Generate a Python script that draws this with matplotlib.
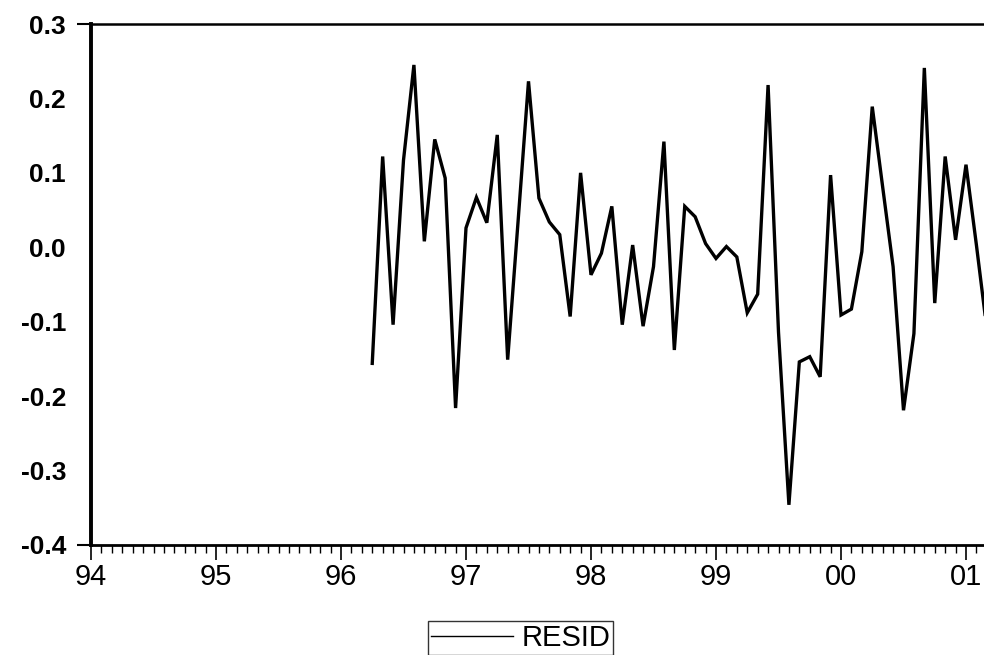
import numpy as np
import pandas as pd
import matplotlib
matplotlib.use("Agg")
import matplotlib.pyplot as plt
from matplotlib.lines import Line2D
from matplotlib.ticker import MultipleLocator

# monthly residuals, Apr 1996 - Mar 2001
months = pd.date_range("1996-04-01", "2001-03-01", freq="MS")
resid = [-0.156, 0.122, -0.104, 0.117, 0.245, 0.008, 0.145, 0.093, -0.216,
         0.026, 0.067, 0.033, 0.151, -0.151, 0.035, 0.223, 0.066, 0.034, 0.017, -0.093, 0.100,
         -0.037, -0.008, 0.055, -0.104, 0.003, -0.106, -0.026, 0.142, -0.138, 0.055, 0.041, 0.005,
         -0.015, 0.001, -0.013, -0.088, -0.063, 0.218, -0.114, -0.346, -0.154, -0.147, -0.174, 0.097,
         -0.091, -0.083, -0.006, 0.189, 0.081, -0.026, -0.219, -0.116, 0.241, -0.075, 0.122, 0.010,
         0.111, 0.003, -0.110]

year_ticks = list(range(1994, 2002))
year_labels = ["94", "95", "96", "97", "98", "99", "00", "01"]
y_ticks = [0.3, 0.2, 0.1, 0.0, -0.1, -0.2, -0.3, -0.4]

t = months.year + (months.month - 1) / 12.0

plt.rcParams['font.family'] = ['Liberation Sans', 'DejaVu Sans']

fig = plt.figure(figsize=(9.84, 6.55), dpi=100)
ax = fig.add_axes([91/984, 1 - 545/655, (984 - 91)/984, 521/655])

ax.plot(t, resid, color='black', lw=2.4, solid_joinstyle='miter')

ax.set_xlim(1994, 1994 + (984 - 91) / 125)
ax.set_ylim(-0.4, 0.3)

ax.set_xticks(year_ticks)
ax.set_xticklabels(year_labels, fontsize=21)
ax.xaxis.set_minor_locator(MultipleLocator(1/12))
ax.tick_params(axis='x', which='major', direction='out', length=11, width=1.2, pad=2)
ax.tick_params(axis='x', which='minor', direction='out', length=6, width=1.0)

ax.set_yticks(y_ticks)
ax.set_yticklabels(["%.1f" % v for v in y_ticks], fontsize=19, fontweight='bold')
ax.tick_params(axis='y', which='major', direction='out', length=10, width=1.5, pad=8)
# only the end ticks are drawn on the value axis
for tk in ax.yaxis.get_major_ticks()[1:-1]:
    tk.tick1line.set_visible(False)

ax.spines['right'].set_visible(False)
ax.spines['left'].set_linewidth(2.8)
ax.spines['bottom'].set_linewidth(2.0)
ax.spines['top'].set_linewidth(1.8)

h = Line2D([], [], color='black', lw=1.0)
fig.legend([h], ["RESID"], loc='upper left', bbox_to_anchor=(428/984, 1 - 621/655),
           borderaxespad=0, frameon=True, fancybox=False, edgecolor='black',
           fontsize=21, handlelength=2.8, handletextpad=0.3, borderpad=0.1)

fig.savefig("out.png", dpi=100)
